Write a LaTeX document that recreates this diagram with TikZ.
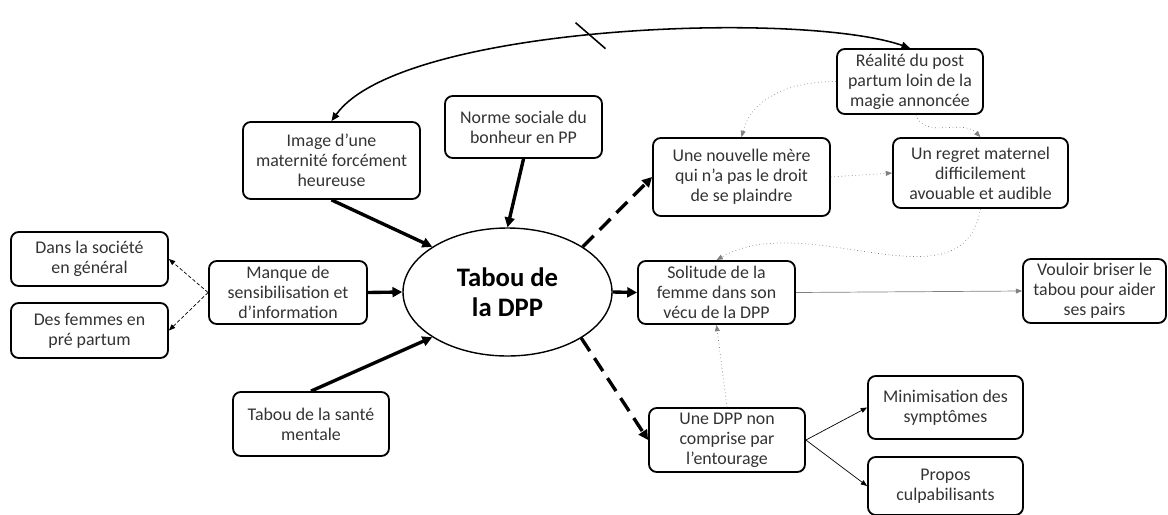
\documentclass[tikz,border=0pt]{standalone}
\usepackage{fontspec}
\setmainfont{Carlito}
\usetikzlibrary{arrows.meta,
    shapes.geometric}

\begin{document}
\begin{tikzpicture}[x=0.025cm, y=-0.025cm,
    idea/.style={draw, line width=1.3pt, rounded corners=5.5pt, align=center,
        inner sep=2pt, text=black!80, font=\fontsize{12.7}{14.2}\selectfont},
    wh/.style 2 args={minimum width=#1*0.025cm, minimum height=#2*0.025cm},
    hub/.style={draw, ellipse, line width=1pt, align=center, inner sep=0pt,
        font=\bfseries\fontsize{19}{21.3}\selectfont},
    strong/.style={line width=2.4pt, -{Triangle[length=7pt,width=7pt]}},
    dashy/.style={strong, dash pattern=on 11pt off 6pt},
    fine/.style={line width=0.5pt, -{Triangle[length=4.5pt,width=3.5pt]}},
    dotty/.style={fine, gray, dotted}]
    \useasboundingbox (0,0) rectangle (1168,514);
    % centre
    \node[hub, wh={209}{128}] (tabou) at (507.5,292) {Tabou de\\la DPP};
    % causes
    \node[idea, wh={177}{77}] (img) at (331.5,160.5) {Image d’une\\maternité forcément\\heureuse};
    \node[idea, wh={157}{62}] (norme) at (523.5,127) {Norme sociale du\\bonheur en PP};
    \node[idea, wh={158}{63}] (manque) at (288,292.5) {Manque de\\sensibilisation et\\d’information};
    \node[idea, wh={157}{54}] (societe) at (89.5,259) {Dans la société\\en général};
    \node[idea, wh={157}{55}] (femmes) at (89.5,330.5) {Des femmes en\\pré partum};
    \node[idea, wh={156}{64}] (sante) at (311,424) {Tabou de la santé\\mentale};
    % effets
    \node[idea, wh={146}{65}] (realite) at (910,81.5) {Réalité du post\\partum loin de la\\magie annoncée};
    \node[idea, wh={177}{78}] (mere) at (741.5,177) {Une nouvelle mère\\qui n’a pas le droit\\de se plaindre};
    \node[idea, wh={175}{70}] (regret) at (980.5,173) {Un regret maternel\\difficilement\\avouable et audible};
    \node[idea, wh={157}{63}] (solitude) at (716.5,292.5) {Solitude de la\\femme dans son\\vécu de la DPP};
    \node[idea, wh={143}{64}] (vouloir) at (1094.5,291) {Vouloir briser le\\tabou pour aider\\ses pairs};
    \node[idea, wh={156}{64}] (dpp) at (727,440) {Une DPP non\\comprise par\\l’entourage};
    \node[idea, wh={155}{63}] (mini) at (945.5,407.5) {Minimisation des\\symptômes};
    \node[idea, wh={155}{58}] (propos) at (945.5,486) {Propos\\culpabilisants};

    \draw[strong] (img.south) -- (tabou.149);
    \draw[strong] (norme.south) -- (tabou.north);
    \draw[strong] (manque.east) -- (tabou.west);
    \draw[strong] (sante.north) -- (tabou.211);
    \draw[strong] (tabou.east) -- (solitude.west);
    \draw[dashy] (tabou.31) -- (mere.west);
    \draw[dashy] (tabou.-32) -- (dpp.west);
    \draw[fine, dash pattern=on 2.5pt off 1.5pt] (manque.west) -- (societe.east);
    \draw[fine, dash pattern=on 2.5pt off 1.5pt] (manque.west) -- (femmes.east);

    \draw[dotty] (realite.west) to[out=180,in=75] (mere.north);
    \draw[dotty] (realite.-80) to[out=-70,in=135] (regret.north);
    \draw[dotty] (mere.east) -- (regret.west);
    \draw[dotty] (regret.south) to[out=-100,in=30] (solitude.north);
    \draw[dotty] (dpp.north) -- (solitude.south);
    \draw[fine, gray] (solitude.east) -- (vouloir.west);
    \draw[fine] (dpp.east) -- (mini.west);
    \draw[fine] (dpp.east) -- (propos.west);

    % boucle du haut
    \draw[line width=1.1pt, {Triangle[length=6pt,width=5pt]}-{Triangle[length=6pt,width=5pt]}]
        (img.north) .. controls (400,25) and (800,10) .. (realite.north)
        coordinate[pos=0.48] (cut);
    \draw[line width=1.1pt] ([shift={(-15,-13)}]cut) -- ([shift={(15,13)}]cut);
\end{tikzpicture}
\end{document}
